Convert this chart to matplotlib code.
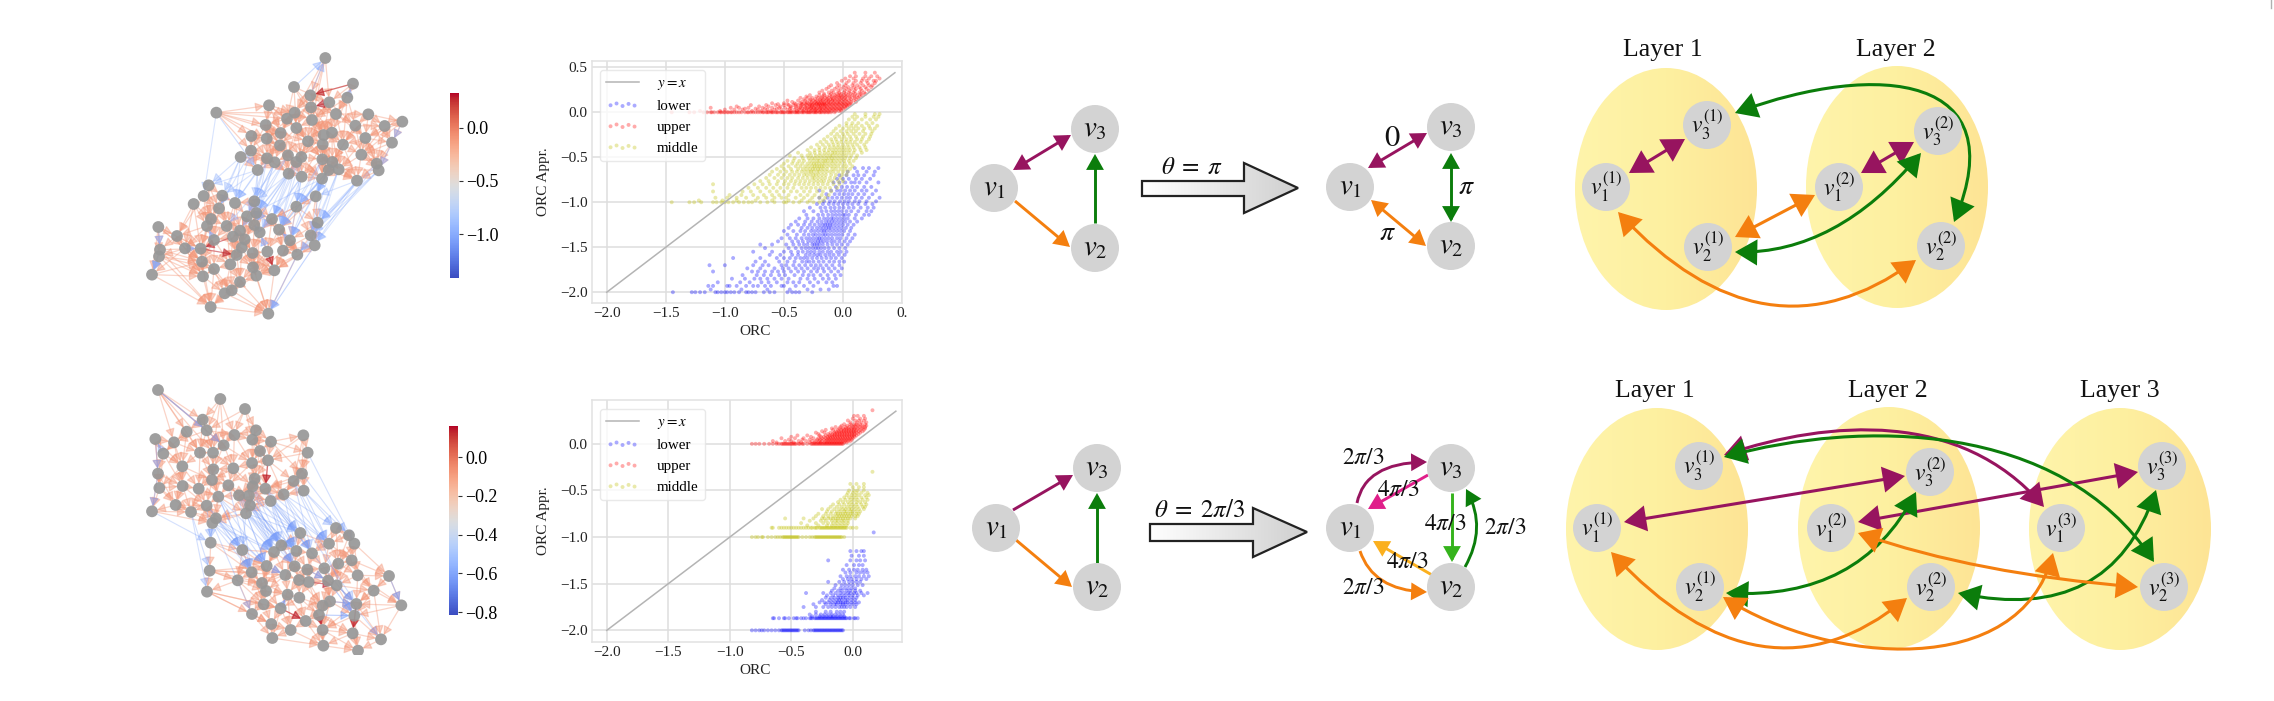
import numpy as np
import matplotlib
matplotlib.use('Agg')
import matplotlib.pyplot as plt
from matplotlib.patches import FancyArrowPatch, Ellipse, Polygon, Circle
from matplotlib.path import Path
from matplotlib.cm import ScalarMappable
from matplotlib.colors import Normalize, LinearSegmentedColormap

plt.rcParams['font.family'] = ['Liberation Serif', 'DejaVu Serif']
plt.rcParams['mathtext.fontset'] = 'stix'

W, H = 2274, 701

# ---- scatter values: {y level: [x values]} ----
upper1 = {
 0.0: [-1.45,-1.3,-1.26,-1.18,-1.15,-1.12,-1.09,-1.06,-1.03,-1.0,-.97,-.95,-.92,-.9,-.86,-.83,-.8,-.78,-.74,-.7,-.68,-.65,-.63,-.6,-.57,-.55,-.52,-.5,-.47,-.45,-.43,-.4,-.38,-.35,-.33,-.3,-.28,-.25,-.23,-.2,-.18,-.16,-.13,-.1,-.07],
 .03: [-1.0,-.92,-.85,-.72,-.64,-.58,-.52,-.47,-.41,-.37,-.33,-.29,-.26,-.23,-.2,-.17,-.14,-.11,-.08,-.05,-.02],
 .05: [-1.12,-.95,-.88,-.8,-.68,-.6,-.54,-.49,-.44,-.4,-.36,-.32,-.3,-.27,-.25,-.22,-.19,-.16,-.13,-.1,-.07,-.04,-.01,.02],
 .08: [-.78,-.65,-.57,-.5,-.46,-.42,-.38,-.35,-.31,-.28,-.26,-.24,-.21,-.19,-.17,-.15,-.12,-.09,-.06,-.03,0.0,.03,.05],
 .1: [-.6,-.5,-.41,-.36,-.33,-.3,-.27,-.24,-.22,-.2,-.18,-.16,-.14,-.11,-.08,-.05,-.02,.01,.04,.07],
 .13: [-.47,-.38,-.32,-.28,-.25,-.22,-.19,-.17,-.14,-.12,-.09,-.07,-.04,-.01,.02,.05,.09],
 .16: [-.36,-.3,-.26,-.21,-.18,-.15,-.12,-.09,-.06,-.03,-.01,.02,.06,.1,.13],
 .19: [-.28,-.2,-.16,-.11,-.07,-.04,-.02,.01,.04,.08,.12,.16],
 .22: [-.2,-.12,-.08,-.03,.01,.05,.09,.14,.18],
 .26: [-.14,-.07,-.02,.03,.07,.11,.15,.2],
 .3: [-.1,-.03,.02,.08,.12,.17,.22,.25],
 .35: [-.01,.05,.11,.16,.2,.26,.28],
 .4: [.06,.11,.19,.24,.29],
 .44: [.1,.19,.27],
}
upper1_extra = {
 0.0: [-1.11,-1.04,-1.01,-.98,-.94,-.88,-.81,-.76,-.72,-.67,-.64,-.61,-.59,-.56,-.53,-.51,-.49,-.46,-.44,-.41,-.39,-.37,-.34,-.31,-.29,-.27,-.24,-.22,-.19,-.15,-.12],
 .015: [-1.21,-1.04,-.77,-.69,-.61,-.44,-.39,-.34,-.31,-.27,-.24,-.215,-.185,-.155,-.125,-.095,-.065,-.035,-.015],
 .04: [-.83,-.74,-.66,-.56,-.45,-.375,-.345,-.305,-.275,-.245,-.225,-.195,-.175,-.145,-.115,-.085,-.055,-.025,.005],
 .065: [-.9,-.71,-.63,-.53,-.445,-.395,-.355,-.325,-.285,-.265,-.235,-.205,-.185,-.155,-.135,-.105,-.075,-.045,-.015,.015,.035],
 .09: [-.55,-.47,-.4,-.345,-.315,-.285,-.255,-.225,-.205,-.175,-.155,-.125,-.095,-.065,-.035,-.005,.025,.06],
 .115: [-.43,-.35,-.305,-.265,-.235,-.21,-.185,-.155,-.125,-.105,-.075,-.045,-.025,.005,.035,.065,.11],
 .145: [-.33,-.275,-.235,-.195,-.165,-.135,-.105,-.085,-.055,-.025,.005,.03,.07,.115],
 .175: [-.31,-.225,-.175,-.135,-.095,-.065,-.035,-.005,.025,.055,.095,.14],
 .205: [-.16,-.1,-.05,-.015,.025,.065,.105,.15,.19],
 .24: [-.175,-.095,-.04,.015,.055,.1,.16,.22],
 .28: [-.12,-.05,.005,.045,.095,.14,.19,.24],
 .325: [-.05,.03,.09,.15,.21,.27],
 .375: [.02,.09,.17,.22,.31],
}
middle1 = {
 -1.0: [-1.45,-1.3,-1.26,-1.2,-1.1,-1.07,-1.03,-1.0,-.97,-.93,-.88,-.84,-.8,-.77,-.7,-.64,-.58,-.5,-.48,-.42,-.37,-.3,-.25,-.2],
 -.95: [-1.08,-.98,-.9,-.82,-.72,-.65,-.58,-.52,-.48,-.4,-.33,-.26,-.2,-.15],
 -.88: [-1.1,-.85,-.78,-.7,-.62,-.56,-.5,-.44,-.39,-.33,-.28,-.22,-.17,-.1],
 -.8: [-1.1,-.75,-.68,-.62,-.56,-.5,-.46,-.41,-.37,-.33,-.29,-.25,-.21,-.17,-.13,-.08,-.03],
 -.73: [-.65,-.58,-.52,-.47,-.43,-.38,-.34,-.3,-.26,-.24,-.21,-.18,-.15,-.11,-.07,-.02],
 -.66: [-.6,-.53,-.48,-.43,-.39,-.35,-.32,-.29,-.27,-.25,-.22,-.2,-.17,-.14,-.11,-.08,-.04,0.0,.04],
 -.6: [-.52,-.46,-.4,-.36,-.32,-.29,-.26,-.24,-.22,-.2,-.18,-.16,-.13,-.1,-.07,-.04,0.0,.03,.08],
 -.54: [-.47,-.42,-.37,-.33,-.28,-.25,-.22,-.2,-.17,-.15,-.13,-.1,-.08,-.05,-.02,.01,.05,.09],
 -.48: [-.45,-.35,-.3,-.27,-.23,-.2,-.17,-.14,-.11,-.09,-.06,-.03,0.0,.03,.07,.12],
 -.42: [-.3,-.24,-.2,-.16,-.12,-.09,-.06,-.03,0.0,.03,.06,.1,.15,.2],
 -.36: [-.22,-.17,-.12,-.08,-.04,0.0,.04,.08,.12,.18],
 -.3: [-.16,-.1,-.06,-.01,.03,.07,.12,.16,.22],
 -.24: [-.1,-.05,0.0,.04,.09,.14,.19,.24],
 -.18: [-.06,0.0,.05,.09,.13,.18,.23,.27],
 -.12: [.03,.08,.13,.2,.25],
 -.05: [.08,.12,.19,.26,.3],
}
middle1_extra = {
 -.98: [-1.22,-1.02,-.9,-.74,-.6,-.46,-.35,-.28,-.17],
 -.92: [-.96,-.86,-.76,-.67,-.6,-.54,-.46,-.36,-.3,-.24,-.18,-.12],
 -.84: [-.8,-.72,-.65,-.59,-.53,-.47,-.42,-.35,-.31,-.27,-.23,-.19,-.15,-.11,-.05],
 -.765: [-.7,-.63,-.55,-.49,-.44,-.4,-.36,-.32,-.28,-.245,-.215,-.185,-.16,-.12,-.09,-.04,.0],
 -.695: [-.62,-.55,-.5,-.45,-.41,-.37,-.33,-.305,-.275,-.25,-.23,-.205,-.175,-.145,-.1,-.06,-.01,.03],
 -.63: [-.56,-.5,-.44,-.38,-.34,-.31,-.28,-.255,-.235,-.21,-.19,-.165,-.135,-.09,-.06,-.02,.02,.06],
 -.57: [-.5,-.43,-.385,-.345,-.3,-.27,-.245,-.225,-.2,-.175,-.15,-.12,-.09,-.06,-.025,.015,.06],
 -.51: [-.41,-.34,-.29,-.26,-.235,-.205,-.175,-.145,-.12,-.095,-.07,-.04,-.01,.02,.06,.11],
 -.45: [-.38,-.28,-.24,-.195,-.155,-.125,-.09,-.07,-.045,-.015,.015,.05,.09,.16],
 -.39: [-.27,-.2,-.15,-.11,-.075,-.045,-.015,.015,.05,.09,.14,.19],
 -.33: [-.19,-.14,-.09,-.05,-.015,.025,.06,.1,.15,.2],
 -.27: [-.13,-.07,-.03,.01,.06,.11,.17,.23],
 -.21: [-.08,-.02,.03,.07,.11,.17,.25],
 -.15: [-.03,.03,.07,.11,.16,.22,.29],
 -.08: [.05,.1,.16,.23,.28],
 -.02: [.1,.19,.27,.31],
}
lower1 = {
 -2.0: [-1.44,-1.28,-1.25,-1.21,-1.17,-1.08,-1.06,-1.03,-1.0,-.98,-.95,-.92,-.88,-.82,-.8,-.77,-.74,-.67,-.62,-.58,-.47,-.43,-.4,-.37,-.26],
 -1.93: [-1.14,-1.1,-.98,-.96,-.9,-.82,-.76,-.72,-.66,-.61,-.52,-.5,-.4,-.33,-.25,-.08,-.05],
 -1.85: [-.94,-.83,-.75,-.7,-.64,-.58,-.52,-.46,-.36,-.3,-.24,-.17,-.12,-.06],
 -1.77: [-1.1,-.77,-.72,-.66,-.6,-.55,-.5,-.44,-.38,-.33,-.27,-.22,-.16,-.1,-.04],
 -1.7: [-1.13,-1.0,-.76,-.68,-.63,-.52,-.48,-.42,-.37,-.32,-.27,-.23,-.19,-.14,-.09,-.03],
 -1.62: [-.93,-.7,-.56,-.5,-.45,-.4,-.36,-.33,-.3,-.26,-.22,-.18,-.14,-.1,-.06,-.01],
 -1.55: [-.76,-.6,-.5,-.44,-.38,-.34,-.3,-.27,-.24,-.2,-.17,-.13,-.1,-.05,-.02,.03],
 -1.47: [-.7,-.6,-.48,-.42,-.37,-.33,-.3,-.26,-.24,-.22,-.2,-.17,-.13,-.09,-.05,-.01,.04],
 -1.4: [-.52,-.45,-.4,-.35,-.31,-.28,-.25,-.22,-.2,-.18,-.15,-.12,-.09,-.05,-.02,.03,.08],
 -1.32: [-.5,-.42,-.36,-.32,-.27,-.24,-.21,-.18,-.16,-.14,-.11,-.08,-.05,-.02,.01,.06],
 -1.25: [-.44,-.38,-.33,-.28,-.24,-.2,-.17,-.15,-.13,-.11,-.09,-.06,-.03,0.0,.04,.09],
 -1.18: [-.37,-.3,-.25,-.2,-.16,-.13,-.1,-.08,-.05,-.02,.01,.04,.1,.16],
 -1.1: [-.33,-.25,-.18,-.14,-.1,-.07,-.04,-.01,.03,.07,.13,.2,.24],
 -1.02: [-.22,-.17,-.12,-.08,-.04,0.0,.04,.08,.13,.19,.25],
 -.95: [-.2,-.13,-.09,-.05,-.01,.03,.06,.11,.16,.22,.31],
 -.87: [-.2,-.1,-.05,-.02,.02,.06,.1,.16,.2,.28],
 -.78: [-.08,-.03,.02,.07,.1,.14,.2,.3],
 -.7: [-.03,.03,.09,.13,.18,.26],
 -.62: [.1,.17,.22,.3],
}
lower1_extra = {
 -1.97: [-1.12,-.86,-.64,-.45,-.3,-.19,-.12],
 -1.89: [-1.06,-.87,-.79,-.69,-.63,-.56,-.47,-.42,-.37,-.28,-.21,-.14,-.09],
 -1.81: [-.85,-.73,-.67,-.61,-.54,-.49,-.41,-.34,-.29,-.25,-.19,-.13,-.07,-.02],
 -1.735: [-.81,-.7,-.58,-.51,-.46,-.4,-.35,-.3,-.245,-.21,-.17,-.12,-.07,-.01],
 -1.66: [-.74,-.66,-.54,-.47,-.41,-.345,-.31,-.285,-.25,-.205,-.165,-.115,-.075,-.03,.01],
 -1.585: [-.62,-.53,-.43,-.38,-.315,-.28,-.245,-.215,-.19,-.15,-.115,-.08,-.035,.015],
 -1.51: [-.66,-.46,-.4,-.35,-.315,-.285,-.255,-.23,-.21,-.185,-.155,-.12,-.075,-.03,.02],
 -1.435: [-.55,-.43,-.38,-.34,-.295,-.265,-.235,-.21,-.19,-.165,-.135,-.1,-.07,-.03,.015,.06],
 -1.36: [-.47,-.39,-.33,-.29,-.255,-.23,-.2,-.17,-.15,-.125,-.095,-.065,-.035,-.005,.045,.1],
 -1.285: [-.46,-.35,-.3,-.26,-.22,-.19,-.165,-.14,-.12,-.1,-.07,-.04,-.01,.025,.07],
 -1.215: [-.4,-.32,-.265,-.215,-.18,-.145,-.12,-.095,-.07,-.04,-.01,.02,.06,.12],
 -1.14: [-.31,-.21,-.17,-.125,-.09,-.06,-.03,.0,.02,.05,.11,.18,.22],
 -1.06: [-.28,-.19,-.15,-.105,-.07,-.03,.005,.05,.09,.15,.21,.26],
 -.99: [-.16,-.11,-.07,-.025,.015,.05,.1,.14,.2,.28],
 -.91: [-.14,-.07,-.03,.01,.045,.08,.13,.18,.25],
 -.83: [-.06,-.01,.035,.08,.12,.18,.24],
 -.74: [-.05,.0,.05,.11,.16,.23],
 -.66: [.04,.12,.2,.27],
}
upper2 = {
 0.0: [-.82,-.76,-.72,-.68,-.65,-.62,-.6,-.58,-.56,-.54,-.52,-.5,-.48,-.46,-.44,-.4,-.37,-.34,-.32,-.3,-.28,-.26,-.24,-.22,-.2,-.18,-.16,-.14,-.12,-.1,-.08],
 .03: [-.65,-.55,-.5,-.44,-.38,-.33,-.3,-.27,-.25,-.22,-.2,-.18,-.16,-.14,-.12,-.1,-.08,-.06,-.04,-.02],
 .06: [-.58,-.47,-.4,-.32,-.28,-.25,-.22,-.2,-.18,-.16,-.14,-.12,-.1,-.08,-.06,-.04,-.02,0.0],
 .09: [-.45,-.37,-.27,-.22,-.19,-.17,-.15,-.13,-.11,-.09,-.07,-.05,-.03,-.01,.01,.03],
 .12: [-.3,-.23,-.18,-.15,-.13,-.11,-.09,-.07,-.05,-.03,-.01,.01,.03,.06],
 .15: [-.22,-.16,-.12,-.09,-.07,-.05,-.03,-.01,.01,.03,.06,.09],
 .18: [-.14,-.1,-.06,-.03,0.0,.02,.05,.08,.1],
 .21: [-.07,-.02,.01,.03,.06,.1],
 .25: [-.04,.02,.05,.09],
 .3: [.01,.04,.09],
 .36: [.16],
}
upper2_extra = {
 0.0: [-.79,-.57,-.55,-.53,-.51,-.49,-.47,-.43,-.41,-.33,-.31,-.29,-.27,-.25,-.23,-.21,-.19,-.17,-.15,-.13,-.11,-.09],
 .015: [-.62,-.48,-.42,-.35,-.31,-.28,-.26,-.23,-.21,-.19,-.17,-.15,-.13,-.11,-.09,-.07,-.05],
 .045: [-.52,-.41,-.35,-.29,-.265,-.235,-.21,-.19,-.17,-.15,-.13,-.11,-.09,-.07,-.05,-.03,-.01],
 .075: [-.5,-.34,-.26,-.235,-.205,-.185,-.165,-.145,-.125,-.105,-.085,-.065,-.045,-.025,-.005,.015],
 .105: [-.28,-.2,-.165,-.145,-.125,-.105,-.085,-.065,-.045,-.025,-.005,.015,.045],
 .135: [-.25,-.14,-.115,-.095,-.075,-.055,-.035,-.015,.005,.025,.05,.08],
 .165: [-.17,-.11,-.08,-.055,-.035,-.01,.015,.04,.07,.1],
 .195: [-.09,-.045,-.01,.02,.045,.075,.11],
 .23: [-.02,.035,.07,.11],
 .27: [.0,.06,.1],
}
middle2 = {
 -1.0: [-.82,-.77,-.73,-.69,-.66,-.63,-.61,-.59,-.57,-.55,-.53,-.51,-.49,-.47,-.45,-.41,-.38,-.35,-.33,-.31,-.29,-.27,-.25,-.23,-.21,-.19,-.17,-.15,-.13,-.11,-.09,-.07],
 -.9: [-.66,-.6,-.58,-.54,-.5,-.46,-.42,-.38,-.36,-.33,-.31,-.29,-.27,-.25,-.23,-.21,-.19,-.17,-.15,-.13,-.11,-.09,-.07,-.05,0.0,.03],
 -.85: [-.42,-.3,-.24,-.2,-.16,-.13,-.1,-.07,-.04],
 -.8: [-.55,-.4,-.32,-.25,-.23,-.2,-.18,-.16,-.14,-.12,-.1,-.08,-.06,-.04,-.02,.02],
 -.75: [-.28,-.22,-.18,-.14,-.12,-.1,-.08,-.06,-.04,-.02,0.0,.03,.05],
 -.7: [-.25,-.2,-.15,-.11,-.08,-.06,-.03,-.01,.02,.05,.09],
 -.65: [-.16,-.11,-.07,-.03,0.0,.03,.07,.11],
 -.6: [-.1,-.06,-.02,.01,.04,.08,.12],
 -.55: [-.05,-.01,.02,.05,.1,.13],
 -.5: [-.03,.01,.04,.09],
 -.43: [-.02,.03,.09],
 -.3: [.16],
}
middle2_extra = {
 -1.0: [-.79,-.74,-.56,-.54,-.52,-.5,-.48,-.46,-.44,-.3,-.28,-.26,-.24,-.22,-.2,-.18,-.16,-.14,-.12,-.1],
 -.9: [-.65,-.56,-.52,-.48,-.44,-.4,-.34,-.3,-.26,-.24,-.22,-.2,-.18,-.16,-.14,-.12,-.1,-.08,-.06,-.02],
 -.875: [-.37,-.28,-.21,-.17,-.14,-.11,-.08,-.05],
 -.825: [-.35,-.26,-.22,-.17,-.14,-.12,-.09,-.07,-.04],
 -.775: [-.3,-.24,-.2,-.16,-.13,-.11,-.09,-.07,-.05,-.03,-.01,.02,.04],
 -.725: [-.21,-.17,-.13,-.1,-.07,-.05,-.02,.0,.03,.06],
 -.675: [-.18,-.13,-.09,-.05,-.02,.01,.04,.08,.1],
 -.625: [-.12,-.08,-.04,-.01,.03,.06,.1],
 -.575: [-.07,-.03,.0,.03,.07,.11],
 -.525: [-.04,.0,.03,.07,.12],
 -.465: [.0,.05,.09],
}
lower2 = {
 -2.0: [-.82,-.76,-.72,-.69,-.66,-.63,-.6,-.58,-.56,-.54,-.52,-.5,-.48,-.46,-.44,-.39,-.36,-.34,-.32,-.3,-.28,-.26,-.24,-.22,-.2,-.18,-.16,-.14,-.12,-.1,-.08],
 -1.87: [-.65,-.6,-.56,-.52,-.48,-.45,-.42,-.38,-.35,-.33,-.31,-.29,-.27,-.25,-.24,-.22,-.21,-.19,-.18,-.16,-.15,-.13,-.11,-.09,-.07,-.05,-.02,.02,.04],
 -1.83: [-.35,-.3,-.26,-.23,-.2,-.17,-.14,-.11,-.08],
 -1.75: [-.4,-.3,-.24,-.2,-.17,-.14,-.11,-.09,-.07,-.05,-.02,.02],
 -1.7: [-.27,-.23,-.2,-.17,-.14,-.12,-.1,-.08,-.06,-.04,-.01,.02,.05],
 -1.65: [-.22,-.18,-.15,-.12,-.1,-.08,-.06,-.03,0.0,.03],
 -1.6: [-.38,-.24,-.18,-.14,-.1,-.07,-.04,-.02,.01,.03,.07,.12],
 -1.55: [-.15,-.1,-.07,-.04,-.01,.02],
 -1.48: [-.2,-.11,-.07,-.03,0.0,.03,.06],
 -1.42: [-.1,-.05,-.02,.02,.05,.09,.13],
 -1.35: [-.08,-.03,.01,.04,.08,.11],
 -1.25: [-.2,-.02,.03,.06,.1],
 -1.15: [-.02,.03,.07,.09],
 -.95: [.17],
}
lower2_extra = {
 -2.0: [-.79,-.74,-.57,-.55,-.53,-.51,-.49,-.47,-.45,-.31,-.29,-.27,-.25,-.23,-.21,-.19,-.17,-.15,-.13,-.11,-.09],
 -1.87: [-.64,-.55,-.46,-.4,-.34,-.3,-.28,-.26,-.23,-.2,-.17,-.14,-.12,-.1,-.08,-.06,-.03,.01],
 -1.85: [-.33,-.27,-.24,-.21,-.18,-.16,-.13,-.1,-.07],
 -1.8: [-.3,-.22,-.18,-.13,-.1,-.07],
 -1.72: [-.32,-.22,-.18,-.15,-.13,-.1,-.08,-.06,-.03,0.0,.03],
 -1.675: [-.25,-.19,-.16,-.13,-.11,-.09,-.06,-.04,-.01,.02],
 -1.625: [-.21,-.16,-.12,-.09,-.06,-.03,.0,.04,.09],
 -1.575: [-.17,-.12,-.09,-.05,-.02,.02,.06],
 -1.515: [-.14,-.09,-.06,-.03,.0,.04,.08],
 -1.45: [-.08,-.04,-.01,.03,.07,.11],
 -1.38: [-.06,-.02,.03,.06,.09,.12],
 -1.3: [-.05,.01,.05,.08],
 -1.2: [-.01,.05,.09],
}
diag1 = [-2.0, 0.44]
diag2 = [-2.0, 0.35]
xticks1 = [-2.0,-1.5,-1.0,-0.5,0.0,0.5]
xlabels1 = ['\u22122.0','\u22121.5','\u22121.0','\u22120.5','0.0','0.']
yticks1 = [-2.0,-1.5,-1.0,-0.5,0.0,0.5]
ylabels1 = ['\u22122.0','\u22121.5','\u22121.0','\u22120.5','0.0','0.5']
xticks2 = [-2.0,-1.5,-1.0,-0.5,0.0]
xlabels2 = ['\u22122.0','\u22121.5','\u22121.0','\u22120.5','0.0']
yticks2 = [-2.0,-1.5,-1.0,-0.5,0.0]
ylabels2 = ['\u22122.0','\u22121.5','\u22121.0','\u22120.5','0.0']
cb1_ticks = [-1.0,-0.5,0.0]
cb1_labels = ['\u22121.0','\u22120.5','0.0']
cb2_ticks = [-0.8,-0.6,-0.4,-0.2,0.0]
cb2_labels = ['\u22120.8','\u22120.6','\u22120.4','\u22120.2','0.0']

# ---- networks: node positions and edges ----
n1a = [(586,39),(669,116),(492,126),(541,151),(652,158),(598,172),(417,181),(259,203),(543,187),(494,203),(618,207),(715,208),(817,230),(471,221),(546,225),(407,240),(676,242),(764,243),(499,249),(606,263),(452,264),(581,270),(364,273),(410,281),(706,279),(534,289),(786,293),(578,298),(450,301),(639,299),(363,317),(332,336),(474,331),(514,336),(694,329),(411,340),(577,343),(499,351),(434,352),(607,351),(740,356),(746,376),(596,375),(626,373),(383,375),(476,386),(515,395),(576,401),(681,407)]
n1b = [(236,421),(557,454),(277,452),(221,453),(373,469),(315,474),(191,477),(267,490),(499,485),(379,504),(351,514),(243,522),(426,522),(563,533),(85,546),(231,543),(290,543),(373,540),(447,554),(330,557),(389,562),(141,573),(542,571),(309,575),(252,585),(480,586),(344,583),(554,601),(165,610),(90,614),(87,634),(335,608),(212,611),(368,624),(412,620),(459,617),(320,630),(502,629),(216,650),(301,658),(252,672),(369,667),(433,676),(66,689),(219,694),(379,692),(330,711),(305,736),(284,745),(242,786),(415,806)]
n1a_edges = {0:[3,8,14,5,9],1:[5,4,3,10],2:[8,14,13,5,18],3:[9,14,18,10,21],4:[10,16,19,29,14],5:[14,19,21,16,25],6:[13,18,20,15,9,23],7:[6,15,23,20,13,9,22,30],8:[13,19,25,10,21],9:[20,25,18,14,23],10:[29,16,21,25,11,24],11:[17,24,16,29,12,26],12:[17,26,24,34],13:[20,28,25,15,18],14:[21,27,19,18,36],15:[23,28,20,30,32],16:[29,34,24,17,39],17:[26,24,34,40],18:[25,32,33,28,27,36],19:[29,27,36,39,43],20:[28,32,33,25,35],21:[36,29,33,42],22:[23,30,28,35,20],23:[35,38,32,28],24:[34,40,26,41,29,43],25:[33,36,27,37,45],26:[40,41,34],27:[39,36,42,47,46],28:[38,32,37,45,35],29:[43,34,39,48,42],30:[35,44,38,31],31:[44,35,38],32:[37,45,46,38],33:[46,47,36,37],34:[40,41,48,43],35:[44,38,45],36:[42,47,39,46],37:[45,46,47],38:[45,44,46],39:[43,42,47,48],40:[41,48],41:[48,43],42:[47,43,48],43:[48,47],45:[46],46:[47]}
n1b_edges = {0:[7,11,15,2],1:[13,22,18,12,8],2:[7,16,5,11],3:[11,15,7,21],4:[10,17,9,5,12,19],5:[10,16,19,23],6:[15,21,28,11,32],7:[16,24,19,15],8:[12,18,25,22,13],9:[17,20,12,18,26],10:[19,26,20,31],11:[15,24,32,16],12:[18,20,25,34,35],13:[22,27,25],14:[21,28,29,32,38,43,30],15:[24,28,32,21,38],16:[23,24,36,39],17:[20,26,33],18:[25,35,34,37],19:[23,31,36,33],20:[33,34,41,45],21:[28,29,38,32,44],22:[27,37,35],23:[31,36,39,24],24:[32,38,40,39],25:[35,37,42],26:[33,41,45],27:[37,42,35],28:[38,30,43,44],29:[43,38,32,44,49],30:[43,38,44,40,49],31:[39,36,41,46],32:[38,40,44,39],33:[41,45,34,42],34:[42,45,41],35:[42,45,37],36:[39,46,41],37:[42,45,50],38:[44,40,49,47],39:[40,46,47,48],40:[44,48,47,49],41:[45,46,50],42:[45,50],43:[44,49,38],44:[49,48],45:[46,50,47],46:[47,50,48],47:[48,50,49],48:[49,50],49:[50]}
n1_cross = [(7,3),(31,2),(31,5),(44,4),(44,5),(45,4),(45,9),(46,8),(46,12),(47,8),(47,1),(47,10),(48,1),(48,13),(48,22),(41,13),(40,27),(35,4),(38,10),(37,9),(33,12),(36,18),(42,8),(43,13),(39,1),(30,7),(32,16),(32,19),(38,17),(45,17),(46,25),(47,22),(37,18),(46,20),(48,37),(41,37),(44,0),(31,0),(35,5),(33,8),(36,8),(42,1),(43,22),(39,22),(46,18),(47,25),(38,9),(37,12),(31,7),(35,10),(44,9),(38,4),(45,12),(45,20),(37,17),(33,18),(36,25),(42,18),(47,18),(39,25),(43,27),(48,27),(41,22),(40,13),(30,5),(44,2),(35,17),(32,9)]
n1a_blue = [(2,0),(3,0),(7,44),(4,1),(12,26),(26,41)]
n1b_blue = [(37,50),(27,50),(29,43),(30,43),(14,29),(28,32),(24,15),(20,17),(25,18),(34,20)]
n1a_strong = [(1,3),(5,8)]
n1b_strong = [(23,32),(32,36),(34,42)]

n2a = [(84,45),(271,72),(345,102),(218,134),(230,166),(170,170),(378,166),(313,180),(367,194),(76,192),(132,202),(423,200),(520,181),(281,211),(210,233),(249,233),(100,236),(390,228),(533,233),(157,274),(414,256),(366,264),(310,280),(250,283),(84,296),(516,296),(374,311),(246,315),(491,318),(295,331),(368,334),(88,339),(158,333),(206,341),(406,341),(521,347),(327,361),(357,362),(265,365),(461,358),(422,378),(137,390),(230,392),(360,391),(66,409),(183,411),(348,415),(258,430),(247,444)]
n2b = [(618,459),(657,481),(511,474),(597,506),(673,506),(242,503),(454,511),(337,525),(499,528),(432,531),(546,535),(665,556),(625,566),(410,573),(494,574),(532,584),(583,580),(239,587),(365,592),(466,600),(683,601),(777,603),(323,616),(396,624),(507,615),(536,621),(594,617),(620,631),(408,648),(231,650),(731,647),(473,659),(508,668),(814,691),(600,679),(578,692),(679,687),(401,688),(452,700),(366,717),(567,720),(673,722),(527,738),(424,747),(578,765),(482,765),(668,775),(427,789),(753,793),(580,812),(684,827)]
n2a_edges = {0:[3,4,5,10,14,15,13],1:[3,4,7,13,15],2:[6,7,8,13,4],3:[4,5,13,14,15],4:[13,14,15,7,10],5:[10,14,16,19],6:[8,7,17,11,21],7:[13,8,15,22,21],8:[17,21,11,20],9:[10,16,19,24,31],10:[16,14,19,32],11:[12,17,20,18,25],12:[18,20,25,28],13:[15,22,23,21],14:[15,19,23,27,33],15:[23,22,27],16:[19,24,32,31],17:[20,21,26,34],18:[25,20,28,35],19:[32,33,27,31,41],20:[26,34,28,39,21],21:[22,26,30,29],22:[23,29,30,27],23:[27,29,33,38],24:[31,32,41,44],25:[28,35,39,34],26:[30,34,37,36],27:[33,38,29,42],28:[35,39,34,40],29:[36,38,37,43],30:[37,36,43,34],31:[41,44,32,45],32:[33,41,45,42],33:[42,38,45],34:[39,40,37,43],35:[39,40],36:[37,43,46,38],37:[43,46,40],38:[42,47,48,46],39:[40],40:[43,46],41:[44,45,42],42:[45,47,48],43:[46,47],44:[45,48],45:[48,47],46:[47,48],47:[48]}
n2b_edges = {0:[3,10,12,1,4],1:[4,11,12,3],2:[8,6,10,3],3:[10,12,16,11],4:[11,20,12,21,26],5:[7,13,17,18],6:[9,8,14,13],7:[9,13,18,22],8:[10,14,15,19],9:[13,14,19,23],10:[15,16,25],11:[12,20,26,27,21,30],12:[16,26,27,20],13:[18,19,23,28],14:[15,19,24,25],15:[16,25,24,26],16:[26,27,34],17:[18,22,23,13,19,28,29],18:[22,23,37,28],19:[24,31,28,23],20:[21,27,30,36,33],21:[30,33,36],22:[23,37,39,29],23:[28,37,31],24:[25,32,31,35],25:[26,35,32,40],26:[27,34,35],27:[34,36,30,41],28:[37,38,31,39],29:[37,39,38,43],30:[33,36,41,48],31:[32,38,42,45],32:[35,42,40,38],33:[41,48,36],34:[35,36,40,44,41],35:[40,42,44],36:[41,46,48,44],37:[38,39,43],38:[43,42,45,47],39:[43,47],40:[42,44,46,49],41:[46,48,44,50],42:[44,45,49],43:[45,47],44:[46,49,50],45:[47,49],46:[48,49,50],47:[49],48:[50],49:[50]}
n2_cross = [(46,7),(46,9),(46,2),(43,6),(43,8),(40,2),(40,6),(40,3),(39,0),(39,3),(35,0),(35,1),(28,10),(25,1),(18,4),(47,7),(47,13),(48,7),(48,5),(48,18),(42,5),(45,29),(45,17),(44,5),(42,13),(43,9),(37,6),(36,6),(36,8),(36,9),(38,7),(38,13),(29,18),(34,3),(34,10),(40,10),(39,36),(40,48),(28,41),(46,14),(46,13),(43,14),(47,9),(48,9),(48,39),(37,2),(30,8),(34,8),(43,2),(38,18),(40,8),(40,14),(39,10),(34,2),(37,9),(37,14),(36,13),(36,18),(30,6),(30,9),(47,18),(42,7),(46,6),(46,8),(38,9),(39,8),(28,3),(35,3)]
n2a_blue = [(0,13),(0,4),(9,24),(24,44),(16,9)]
n2b_blue = [(27,36),(26,41),(38,31),(40,41),(21,33),(13,19),(34,36),(15,26)]
n2a_strong = [(20,34)]
n2b_strong = [(38,42),(40,44),(36,46),(25,27)]

# ---- diagram layout, in picture pixels ----
GREY_NODE = '#d3d3d3'
PURPLE, ORANGE, GREEN = '#97145f', '#f47f0f', '#0b7d0b'
LIME, PINK, AMBER = '#35b31c', '#e01f8a', '#fbb01e'

tri_nodes = [
 ('$v_1$',994,188),('$v_3$',1095,129),('$v_2$',1095,248),
 ('$v_1$',1350,187),('$v_3$',1451,127),('$v_2$',1451,246),
 ('$v_1$',996,528),('$v_3$',1097,468),('$v_2$',1097,587),
 ('$v_1$',1350,528),('$v_3$',1451,468),('$v_2$',1451,587),
]
tri_arrows = [
 ('<|-|>',PURPLE,[(1013,170),(1071,135)]),
 ('-|>',ORANGE,[(1015,201),(1070,247)]),
 ('-|>',GREEN,[(1095,223),(1095,154)]),
 ('<|-|>',PURPLE,[(1368,168),(1427,133)]),
 ('<|-|>',GREEN,[(1451,153),(1451,222)]),
 ('<|-|>',ORANGE,[(1371,200),(1426,246)]),
 ('-|>',PURPLE,[(1013,510),(1073,475)]),
 ('-|>',ORANGE,[(1016,540),(1072,587)]),
 ('-|>',GREEN,[(1097,563),(1097,493)]),
 ('-|>',PURPLE,[(1357,503),(1365,463),(1427,462)]),
 ('-|>',PINK,[(1428,475),(1368,509)]),
 ('-|>',LIME,[(1452,493),(1452,562)]),
 ('-|>',GREEN,[(1465,567),(1487,528),(1466,489)]),
 ('-|>',AMBER,[(1432,575),(1373,541)]),
 ('-|>',ORANGE,[(1360,551),(1373,590),(1427,592)]),
]
tri_labels = [
 ('$0$',1392,139,22),('$\\pi$',1466,187,20),('$\\pi$',1387,233,20),
 ('$2\\pi/3$',1363,459,17),('$4\\pi/3$',1398,491,17),('$4\\pi/3$',1445,524,17),
 ('$2\\pi/3$',1505,528,17),('$4\\pi/3$',1407,563,17),('$2\\pi/3$',1363,588,17),
 ('$\\theta\\;=\\;\\pi$',1192,168,18),('$\\theta\\;=\\;2\\pi/3$',1200,511,18),
]
block_arrows = [
 [(1142,181),(1244,181),(1244,163),(1298,188),(1244,213),(1244,196),(1142,196)],
 [(1150,524),(1253,524),(1253,508),(1307,532),(1253,557),(1253,541),(1150,541)],
]
layer_ellipses = [(1666,189),(1897,187),(1657,529),(1889,528),(2120,529)]
layer_labels = [('Layer 1',1663,50),('Layer 2',1896,50),('Layer 1',1655,391),('Layer 2',1888,391),('Layer 3',2120,391)]
layer_nodes = [
 ('$v_1^{(1)}$',1606,187),('$v_3^{(1)}$',1707,125),('$v_2^{(1)}$',1708,247),
 ('$v_1^{(2)}$',1839,187),('$v_3^{(2)}$',1938,131),('$v_2^{(2)}$',1941,246),
 ('$v_3^{(1)}$',1699,466),('$v_1^{(1)}$',1597,528),('$v_2^{(1)}$',1700,587),
 ('$v_3^{(2)}$',1930,472),('$v_1^{(2)}$',1831,528),('$v_2^{(2)}$',1931,587),
 ('$v_3^{(3)}$',2162,466),('$v_1^{(3)}$',2061,528),('$v_2^{(3)}$',2164,587),
]
layer_arrows = [
 (PURPLE,[(1629,173),(1685,139)]),
 (PURPLE,[(1861,173),(1914,142)]),
 (ORANGE,[(1735,237),(1815,195)]),
 (ORANGE,[(1618,212),(1765,370),(1916,260)]),
 (GREEN,[(1735,113),(1880,60),(2015,75),(1954,222)]),
 (GREEN,[(1735,252),(1836,254),(1921,153)]),
 (PURPLE,[(1624,522),(1905,476)]),
 (PURPLE,[(1858,522),(2138,472)]),
 (PURPLE,[(1724,455),(1830,420),(1960,410),(2044,507)]),
 (GREEN,[(1724,457),(1860,420),(2060,420),(2154,562)]),
 (GREEN,[(1726,593),(1860,600),(1916,492)]),
 (GREEN,[(1958,593),(2110,625),(2156,490)]),
 (ORANGE,[(1611,552),(1763,715),(1907,598)]),
 (ORANGE,[(1723,597),(1830,665),(2020,680),(2053,553)]),
 (ORANGE,[(1858,533),(1976,574),(2138,587)]),
]

fig = plt.figure(figsize=(W/100, H/100), dpi=100)

def axpx(l, t, r, b, **kw):
    return fig.add_axes([l/W, 1-b/H, (r-l)/W, (b-t)/H], **kw)

# ---------- overlay for diagrams ----------
ov = axpx(0, 0, W, H)
ov.set_xlim(0, W); ov.set_ylim(H, 0); ov.axis('off')
ov.plot([2271, 2271], [0, 8], color='#b0b0b0', lw=1)

def arrow(style, color, pts, lw=2.1, scale=11, hl=0.75, hw=0.42):
    codes = {2: [Path.MOVETO, Path.LINETO],
             3: [Path.MOVETO, Path.CURVE3, Path.CURVE3],
             4: [Path.MOVETO, Path.CURVE4, Path.CURVE4, Path.CURVE4]}[len(pts)]
    ov.add_patch(FancyArrowPatch(path=Path(pts, codes),
                 arrowstyle=f'{style},head_length={hl},head_width={hw}',
                 mutation_scale=scale, color=color, lw=lw, zorder=5,
                 joinstyle='miter', capstyle='butt'))

yellow = LinearSegmentedColormap.from_list('yl', ['#fff4ab', '#fdf0a0', '#fee495'])
grad = np.linspace(0, 1, 256).reshape(1, -1)
for cx, cy in layer_ellipses:
    e = Ellipse((cx, cy), 182, 242, transform=ov.transData, fc='none', ec='none')
    ov.add_patch(e)
    im = ov.imshow(grad, cmap=yellow, extent=(cx-91, cx+91, cy+121, cy-121), aspect='auto', zorder=1)
    im.set_clip_path(e)
for txt, x, y in layer_labels:
    ov.text(x, y, txt, fontsize=18.5, ha='center', va='center', color='#111111', zorder=8)
for col, pts in layer_arrows:
    arrow('<|-|>', col, pts, lw=2.2, scale=15, hl=0.85, hw=0.5)
for txt, x, y in layer_nodes:
    ov.add_patch(Circle((x, y), 24, fc=GREY_NODE, ec='none', zorder=6))
    ov.text(x, y, txt, fontsize=17, ha='center', va='center', color='#111111', zorder=8)

for style, col, pts in tri_arrows:
    arrow(style, col, pts)
for txt, x, y in tri_nodes:
    ov.add_patch(Circle((x, y), 24, fc=GREY_NODE, ec='none', zorder=6))
    ov.text(x, y, txt, fontsize=21, ha='center', va='center', color='#111111', zorder=8)
for txt, x, y, fs in tri_labels:
    ov.text(x, y, txt, fontsize=fs, ha='center', va='center', color='#111111', zorder=8)
greys = LinearSegmentedColormap.from_list('gy', ['#ffffff', '#cfcfcf'])
for pts in block_arrows:
    xs = [p[0] for p in pts]; ys = [p[1] for p in pts]
    poly = Polygon(pts, closed=True, fc='none', ec='#222222', lw=1.6, zorder=4)
    ov.add_patch(poly)
    im = ov.imshow(grad, cmap=greys, extent=(min(xs), max(xs), max(ys), min(ys)), aspect='auto', zorder=3)
    im.set_clip_path(poly)
ov.set_xlim(0, W); ov.set_ylim(H, 0)

# ---------- networks ----------
def network(box, nodes_a, nodes_b, ea, eb, cross, blue_a, blue_b, strong_a, strong_b,
            vlow, vmid, vhigh, norm):
    ax = axpx(*box)
    ax.set_xlim(0, 900); ax.set_ylim(840, 0); ax.axis('off')
    cm = plt.get_cmap('coolwarm')
    def edge(p, q, v, a, lw=0.9):
        ax.add_patch(FancyArrowPatch(p, q, arrowstyle='-|>,head_length=0.75,head_width=0.4',
                     mutation_scale=7, color=cm(norm(v)), alpha=a, lw=lw,
                     shrinkA=3.5, shrinkB=3.5, zorder=2))
    for nodes, edges in ((nodes_a, ea), (nodes_b, eb)):
        for s, ts in edges.items():
            for t in ts:
                edge(nodes[s], nodes[t], vmid, 0.42)
    for s, t in cross:
        edge(nodes_a[s], nodes_b[t], vlow, 0.32, lw=0.8)
    for s, t in blue_a:
        edge(nodes_a[s], nodes_a[t], vlow, 0.4, lw=0.8)
    for s, t in blue_b:
        edge(nodes_b[s], nodes_b[t], vlow, 0.5, lw=0.8)
    for s, t in strong_a:
        edge(nodes_a[s], nodes_a[t], vhigh, 0.55)
    for s, t in strong_b:
        edge(nodes_b[s], nodes_b[t], vhigh, 0.55)
    pts = np.array(nodes_a + nodes_b)
    ax.scatter(pts[:, 0], pts[:, 1], s=72, color='#979797', alpha=0.92, edgecolors='none', zorder=4)

norm1 = Normalize(-1.415, 0.33)
norm2 = Normalize(-0.815, 0.16)
network((130, 45, 430, 325), n1a, n1b, n1a_edges, n1b_edges, n1_cross, n1a_blue, n1b_blue,
        n1a_strong, n1b_strong, -1.0, -0.1, 0.28, norm1)
network((130, 375, 430, 655), n2a, n2b, n2a_edges, n2b_edges, n2_cross, n2a_blue, n2b_blue,
        n2a_strong, n2b_strong, -0.62, -0.08, 0.14, norm2)

# ---------- colourbars ----------
def cbar(box, norm, ticks, labels):
    c = axpx(*box)
    cb = fig.colorbar(ScalarMappable(norm=norm, cmap='coolwarm'), cax=c)
    cb.outline.set_visible(False)
    cb.set_ticks(ticks); cb.set_ticklabels(labels)
    cb.ax.tick_params(labelsize=13, length=3, width=0.8, pad=2, color='#333333')

cbar((450, 93, 459, 278), norm1, cb1_ticks, cb1_labels)
cbar((449, 426, 458, 615), norm2, cb2_ticks, cb2_labels)

# ---------- scatters ----------
def rows(*dicts):
    x, y = [], []
    for d in dicts:
        for k, vals in d.items():
            x += list(vals)
            y += [k] * len(vals)
    return x, y

LEG_Y = [0.45, 0.62, 0.38, 0.58, 0.42]

def scatter_panel(box, low, up, mid, diag, xlim, ylim, xt, xl, yt, yl):
    ax = axpx(*box)
    ax.set_xlim(*xlim); ax.set_ylim(*ylim)
    ax.set_axisbelow(True)
    ax.grid(True, color='#dedede', lw=1.1)
    for s in ax.spines.values():
        s.set_color('#e2e2e2'); s.set_linewidth(1.1)
    ax.plot(diag, diag, color='#b4b4b4', lw=1.1, label='$y = x$')
    for d, col, name in ((low, '#0000ff', 'lower'), (up, '#ff0000', 'upper'), (mid, '#bfbf00', 'middle')):
        x, y = rows(*d)
        ax.scatter(x, y, s=8, color=col, alpha=0.33, edgecolors='none', label=name)
    ax.set_xticks(xt); ax.set_xticklabels(xl)
    ax.set_yticks(yt); ax.set_yticklabels(yl)
    ax.tick_params(length=0, labelsize=11, pad=3, colors='#222222')
    ax.set_xlabel('ORC', fontsize=11, color='#222222')
    ax.set_ylabel('ORC Appr.', fontsize=11, color='#222222')
    ax.xaxis.set_label_coords(0.526, -0.09)
    ax.yaxis.set_label_coords(-0.135, 0.5)
    ax.legend(loc='upper left', bbox_to_anchor=(0.025, 0.962), borderaxespad=0,
              fontsize=10.8, scatterpoints=5, scatteryoffsets=LEG_Y,
              labelspacing=0.5, handlelength=2.2, handletextpad=1.2, borderpad=0.42,
              frameon=True, framealpha=0.8, edgecolor='#e4e4e4', fancybox=True)

scatter_panel((592, 61, 902, 303), (lower1, lower1_extra), (upper1, upper1_extra), (middle1, middle1_extra),
              diag1, (-2.125, 0.5), (-2.12, 0.57), xticks1, xlabels1, yticks1, ylabels1)
scatter_panel((592, 400, 902, 642), (lower2, lower2_extra), (upper2, upper2_extra), (middle2, middle2_extra),
              diag2, (-2.12, 0.4), (-2.125, 0.47), xticks2, xlabels2, yticks2, ylabels2)

fig.savefig('out.png', dpi=100, facecolor='white')
